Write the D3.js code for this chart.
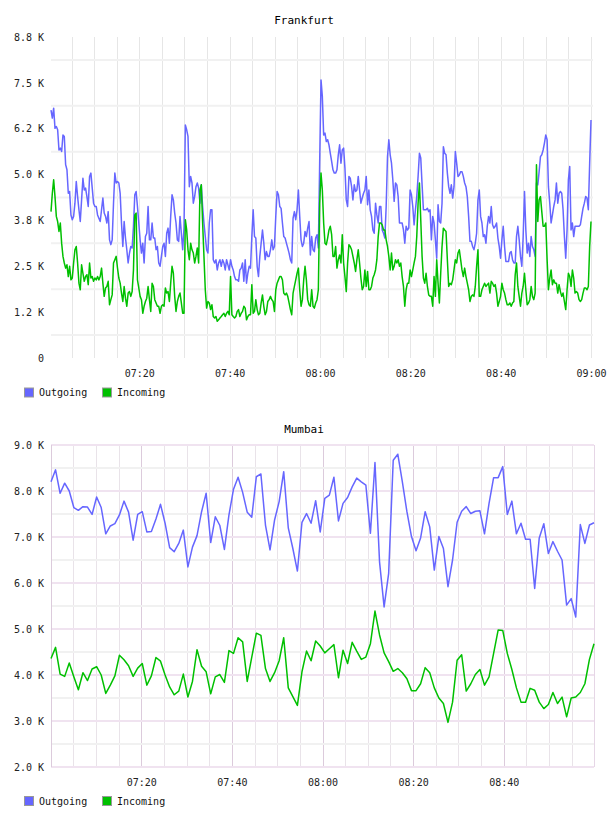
<!DOCTYPE html>
<html>
<head>
<meta charset="utf-8">
<script src="https://cdn.jsdelivr.net/npm/d3@7"></script>
<style>
body { margin: 0; background: #fff; }
svg text { font-family: "DejaVu Sans Mono", monospace; }
</style>
</head>
<body>
<div id="chart"></div>
<script>
// series names / colours shared by both panels
const seriesNames = ["Outgoing", "Incoming"];
const seriesColors = ["#6666ff", "#00c000"];
const timeLabels = ["07:20", "07:40", "08:00", "08:20", "08:40", "09:00"];

// Frankfurt - y ticks and labels
const frankfurtTicks = [0, 1250, 2500, 3750, 5000, 6250, 7500, 8750];
const frankfurtTickLabels = ["0", "1.2 K", "2.5 K", "3.8 K", "5.0 K", "6.2 K", "7.5 K", "8.8 K"];

// Frankfurt samples, 07:00:27 -> 09:00:00
const frankfurtOutgoing = [
  6760, 6540, 6810, 6260, 6310, 6220, 5670, 5720, 5630, 6080,
  6040, 5270, 5130, 4490, 4540, 3900, 3770, 3860, 4220, 4810,
  4400, 4040, 3720, 4310, 4900, 4580, 4630, 4400, 4130, 4950,
  5040, 4630, 4220, 4130, 4130, 3900, 3810, 3720, 4040, 4360,
  3950, 3860, 3680, 3990, 3220, 3090, 3220, 4220, 5040, 4770,
  4810, 4770, 4490, 3680, 3040, 3720, 3270, 2950, 2590, 2860,
  3040, 3000, 3590, 4450, 4540, 4130, 3680, 3220, 2860, 3130,
  2590, 3310, 3400, 4130, 3220, 3220, 3680, 3270, 3270, 2950,
  3040, 2590, 2500, 2770, 3040, 3130, 2770, 3400, 3540, 3130,
  3860, 4450, 4310, 3950, 3680, 3220, 3180, 3860, 3400, 2950,
  3540, 6350, 6220, 6040, 4670, 4950, 4770, 4220, 4400, 4670,
  4770, 4630, 4220, 4720, 4130, 3680, 3310, 2950, 2860, 3680,
  4040, 4040, 2680, 2590, 2680, 2400, 2590, 2680, 2500, 2680,
  2590, 2400, 2680, 2540, 2400, 2680, 2500, 2400, 2220, 2130,
  2130, 2090, 2400, 2450, 2590, 2090, 2680, 2040, 2310, 2500,
  2450, 3310, 4040, 3310, 3270, 2500, 2220, 2770, 3130, 3490,
  3130, 2680, 2900, 2770, 2770, 2950, 3220, 2950, 3040, 3860,
  4540, 4450, 4130, 4080, 3680, 3310, 3270, 3130, 3000, 2860,
  2680, 2590, 3810, 3990, 3770, 4040, 4580, 3860, 3220, 3040,
  3130, 3450, 3310, 3540, 3720, 2810, 3310, 2950, 2900, 3270,
  3360, 3000,
  5310, 7580, 7130, 6080, 6130, 5900, 5950, 5810, 5580, 5360,
  5130, 5040, 5040, 5130, 5540, 5810, 5310, 5670, 5720, 5170,
  4310, 4130, 4950, 4900, 4670, 4310, 4720, 4540, 4580, 4950,
  4580, 4220, 4360, 4490, 4580, 4950, 4180, 4580, 4040, 3860,
  3490, 3400, 4220, 3900, 3680, 4130, 4130, 3490, 3400, 3270,
  4130, 5490, 5950, 5540, 5310, 4860, 4270, 4770, 4720, 4400,
  3680, 3680, 3680, 3490, 3130, 3590, 3490, 3540, 4580, 4450,
  4130, 3630, 4040, 4400, 4950, 5580, 5450, 4720, 4040, 4040,
  4040, 4080, 3990, 4040, 3220, 3860, 3680, 3220, 2720, 4180,
  3720, 3680, 4220, 5760, 5580, 5540, 5040, 4670, 4490, 4720,
  4360, 4670, 5630, 5310, 4950, 4990, 5080, 5080, 4950, 4770,
  4670, 4400, 3860, 3180, 3180, 3040, 2950, 3130, 3400, 4310,
  4580, 3860, 3680, 3310, 3360, 3130, 3590, 3860, 3680, 4130,
  3630, 3540, 3590, 3680, 3270, 3040, 2720, 3220, 3590, 3040,
  2630, 2630, 2630, 2860, 2900, 2680, 2590, 2590, 3310, 3590,
  3220, 2770, 2500, 3310, 4540, 3490, 2860, 3130, 2770, 3310,
  3040, 2950, 2770, 4770, 4720, 5080, 5490, 5540, 5670, 5860,
  6080, 5950, 4670, 4220, 3680, 3900, 4130, 4310, 4770, 4220,
  4490, 4540, 4490, 4040, 3310, 2720, 3490, 4860, 5220, 3490,
  3680, 3310, 3590, 3590, 3590, 3590, 3630, 3860, 4080, 4220,
  4400, 4360, 4040, 5310, 6490
];

const frankfurtIncoming = [
  3990, 4490, 4860, 4400, 3860, 3720, 3450, 3680, 3130, 2770,
  2590, 2450, 2540, 2220, 2500, 2130, 2180, 2590, 2950, 3040,
  2590, 2040, 1860, 2540, 2310, 2090, 2220, 2270, 2000, 2590,
  2180, 2220, 2090, 2180, 2130, 2220, 2130, 2220, 2450, 2040,
  1680, 1910, 1950, 2090, 1450, 1590, 1720, 2590, 2680, 2770,
  2450, 2180, 2040, 1770, 1540, 1950, 1630, 1410, 1770, 1810,
  1680, 1810, 2400, 3900, 3950, 2130, 1910, 1680, 1590, 1220,
  1410, 1540, 1630, 1950, 1590, 1270, 2040, 1950, 1590, 1500,
  1410, 1410, 1220, 1410, 1450, 1410, 1910, 1770, 1810, 1540,
  2040, 2500, 2310, 1680, 1270, 1540, 1680, 1770, 1500, 1220,
  1220, 3770, 3490, 2950, 2680, 3130, 2950, 2860, 2590, 2770,
  3000, 2590, 4580, 4720, 3680, 2770, 1860, 1360, 1540, 1500,
  1320, 1450, 1130, 1090, 1130, 1000, 1040, 1090, 1130, 1180,
  1220, 1130, 1220, 1270, 1180, 2220, 1180, 1130, 1090, 1130,
  1270, 1320, 1130, 1220, 1270, 1410, 1360, 1040, 1130, 1180,
  1180, 2000, 1220, 1270, 1590, 1320, 1180, 1220, 1500, 1720,
  1410, 1180, 1270, 1540, 1590, 1680, 1590, 1540, 1270, 1860,
  2040, 2130, 2220, 2220, 2130, 1770, 1720, 1770, 1680, 1500,
  1320, 1180, 1770, 1950, 2130, 2310, 2450, 1860, 1410, 1590,
  2130, 2500, 2130, 1590, 1450, 1410, 1860, 1410, 1360, 1500,
  1590, 1860,
  4220, 5040, 4580, 3680, 3130, 3090, 3270, 3490, 3590, 3360,
  2770, 2770, 3040, 2450, 2680, 2810, 2590, 3360, 2590, 2220,
  1810, 2590, 3090, 3040, 2950, 2770, 2590, 2360, 2680, 2950,
  2590, 2180, 1860, 1950, 2400, 1950, 2360, 1860, 1860, 1950,
  2180, 2270, 2400, 2680, 3310, 3680, 3680, 3630, 3490, 3490,
  3220, 3040, 2770, 2400, 2860, 2400, 2500, 2680, 2590, 2680,
  2500, 2590, 2220, 1950, 1410, 1860, 2040, 2040, 2400, 2220,
  2400, 2590, 2770, 3310, 4220, 4770, 3770, 2770, 2180, 2040,
  2310, 1950, 1720, 1680, 1680, 1410, 2220, 1680, 2680, 2040,
  1500, 2310, 3040, 3540, 3490, 3450, 2680, 1950, 2040, 2000,
  2130, 2400, 2680, 2590, 2860, 2950, 2680, 2400, 2220, 2450,
  2220, 2040, 1860, 1540, 1680, 1720, 1680, 1950, 2500, 2950,
  1680, 1680, 1860, 1950, 2040, 1950, 2000, 2040, 1770, 2090,
  2040, 1950, 2000, 1770, 1410, 1540, 1680, 2040, 1860, 1770,
  1590, 1450, 1450, 1500, 1410, 1500, 1540, 2270, 2590, 1950,
  1680, 1410, 1770, 1950, 2310, 1860, 1450, 1500, 1590, 1950,
  1680, 1590, 1770, 5270, 3720, 4310, 4400, 3990, 3590, 3590,
  3680, 2680, 1860, 2180, 2400, 2000, 2130, 2040, 2040, 1770,
  2000, 1810, 1680, 1770, 1540, 1320, 1860, 2310, 2220, 1950,
  2400, 2180, 1770, 1810, 1770, 1590, 1540, 1590, 1770, 1910,
  1910, 1860, 1950, 3040, 3720
];

// Mumbai - y ticks and labels
const mumbaiTicks = [2000, 3000, 4000, 5000, 6000, 7000, 8000, 9000];
const mumbaiTickLabels = ["2.0 K", "3.0 K", "4.0 K", "5.0 K", "6.0 K", "7.0 K", "8.0 K", "9.0 K"];

// Mumbai samples, one a minute
const mumbaiOutgoing = [
  8200, 8460, 7950, 8170, 8000, 7640, 7580, 7660, 7650, 7490,
  7870, 7640, 7070, 7240, 7290, 7480, 7780, 7540, 6930, 7490,
  7550, 7110, 7120, 7390, 7710, 7300, 6770, 6680, 6860, 7150,
  6350, 6780, 7030, 7550, 7950, 6880, 7440, 7250, 6730, 7480,
  8040, 8300, 7970, 7540, 7430, 8310, 8370, 7260, 6720, 7370,
  7770, 8420, 7200, 6750, 6260, 7320, 7510, 7300, 7790, 7110,
  7840, 7910, 8300, 7350, 7730, 7860, 8090, 8280, 8200, 8130,
  7080, 8620, 6460, 5480, 6210, 8670, 8800, 8200, 7550, 7010,
  6700, 6980, 7550, 7220, 6280, 7010, 6750, 5920, 6500, 7320,
  7560, 7660, 7510, 7560, 7570, 7070, 7730, 8290, 8290, 8530,
  7490, 7780, 7070, 7300, 6950, 6950, 5880, 6980, 7290, 6640,
  6900, 6690, 6500, 5520, 5660, 5260, 7270, 6860, 7260, 7310
];

const mumbaiIncoming = [
  4360, 4600, 4020, 3970, 4260, 3960, 3680, 4050, 3880, 4130,
  4180, 4000, 3600, 3780, 3980, 4430, 4330, 4200, 3970, 4150,
  4250, 3780, 3980, 4380, 4300, 4000, 3740, 3570, 3650, 4020,
  3520, 3860, 4550, 4190, 4070, 3590, 3960, 4010, 3840, 4530,
  4470, 4810, 4720, 3860, 4390, 4910, 4860, 4140, 3860, 4050,
  4310, 4810, 3720, 3530, 3340, 4070, 4520, 4310, 4740, 4630,
  4480, 4570, 4660, 3940, 4540, 4250, 4710, 4520, 4340, 4390,
  4680, 5390, 4870, 4480, 4290, 4080, 4140, 4050, 3920, 3660,
  3660, 3810, 4160, 4050, 3720, 3500, 3380, 2970, 3410, 4320,
  4440, 3650, 3810, 4010, 4120, 3780, 3960, 4470, 4980, 4970,
  4470, 4120, 3720, 3410, 3410, 3710, 3670, 3410, 3270, 3360,
  3620, 3380, 3520, 3090, 3500, 3520, 3620, 3810, 4340, 4680
];

const width = 608;
const height = 816;

const at = (h, m, s) => new Date(2015, 0, 1, h, m, s || 0);
const parseLabel = d => { const p = d.split(":"); return at(+p[0], +p[1]); };

// spread samples evenly between first and last timestamp
function sampleTimes(n, start, end) {
    return d3.range(n).map(i => new Date(+start + i * (end - start) / (n - 1)));
}

const svg = d3.select("#chart")
    .append("svg")
    .attr("width", width)
    .attr("height", height);

function drawPanel(p) {
    const g = svg.append("g");

    const x = d3.scaleTime().domain(p.xDomain).range([p.left, p.right]);
    const y = d3.scaleLinear().domain(p.yDomain).range([p.bottom, p.top]);

    // vertical grid every 5 minutes
    const minutes = x.ticks(d3.timeMinute.every(5));
    g.append("g").selectAll("line")
        .data(minutes)
        .enter()
        .append("line")
        .attr("x1", d => Math.round(x(d)) + 0.5)
        .attr("x2", d => Math.round(x(d)) + 0.5)
        .attr("y1", p.top)
        .attr("y2", p.bottom)
        .attr("stroke", d => p.tinted && d.getMinutes() % 20 === 0 ? "#dccbdc" : (p.tinted ? "#e9e3e9" : "#e6e6e6"))
        .attr("stroke-width", 1);

    // horizontal grid
    g.append("g").selectAll("line")
        .data(p.hLines)
        .enter()
        .append("line")
        .attr("x1", p.left)
        .attr("x2", p.gridRight)
        .attr("y1", d => y(d))
        .attr("y2", d => y(d))
        .attr("stroke", d => p.tinted && d % 1000 === 0 ? "#f0e3f0" : "#f1f1f1")
        .attr("stroke-width", 2);

    if (p.tinted) {
        // plot frame
        g.append("line")
            .attr("x1", p.left + 0.5).attr("x2", p.left + 0.5)
            .attr("y1", p.top).attr("y2", p.bottom)
            .attr("stroke", "#dccbdc");
        g.append("line")
            .attr("x1", p.right + 0.5).attr("x2", p.right + 0.5)
            .attr("y1", p.top).attr("y2", p.bottom)
            .attr("stroke", "#e6d6e6");
    }

    // y axis labels
    const yAxis = g.append("g")
        .attr("transform", `translate(${p.left}, 0)`)
        .call(d3.axisLeft(y)
            .tickValues(p.yTicks)
            .tickFormat((d, i) => p.yTickLabels[i])
            .tickSize(0)
            .tickPadding(7));
    yAxis.select(".domain").remove();
    yAxis.selectAll("text")
        .attr("font-family", "DejaVu Sans Mono, monospace")
        .attr("font-size", 10)
        .attr("fill", "#222");

    // x axis labels
    const labelDates = timeLabels.map(parseLabel)
        .filter(d => d >= p.xDomain[0] && d <= p.xDomain[1]);
    const xAxis = g.append("g")
        .attr("transform", `translate(0, ${p.bottom})`)
        .call(d3.axisBottom(x)
            .tickValues(labelDates)
            .tickFormat(d3.timeFormat("%H:%M"))
            .tickSize(0)
            .tickPadding(12));
    xAxis.select(".domain").remove();
    xAxis.selectAll("text")
        .attr("font-family", "DejaVu Sans Mono, monospace")
        .attr("font-size", 10)
        .attr("fill", "#222");

    // the two series
    const times = sampleTimes(p.series[0].length, p.firstTime, p.lastTime);
    const line = d3.line()
        .x((d, i) => x(times[i]))
        .y(d => y(d));

    p.series.forEach((values, k) => {
        g.append("path")
            .datum(values)
            .attr("d", line)
            .attr("fill", "none")
            .attr("stroke", seriesColors[k])
            .attr("stroke-width", 1.5)
            .attr("stroke-linejoin", "round");
    });

    // title
    g.append("text")
        .attr("x", width / 2)
        .attr("y", p.titleY)
        .attr("text-anchor", "middle")
        .attr("font-size", 11)
        .attr("fill", "#000")
        .text(p.title);

    // legend
    const legendX = [24, 102];
    const legend = g.append("g").selectAll("g")
        .data(seriesNames)
        .enter()
        .append("g")
        .attr("transform", (d, i) => `translate(${legendX[i]}, ${p.legendY})`);
    legend.append("rect")
        .attr("x", 0.5)
        .attr("y", 0.5)
        .attr("width", 9)
        .attr("height", 9)
        .attr("fill", (d, i) => seriesColors[i])
        .attr("stroke", "#999");
    legend.append("text")
        .attr("x", 15)
        .attr("y", 8.5)
        .attr("font-size", 10)
        .attr("fill", "#111")
        .text(d => d);
}

drawPanel({
    title: "Frankfurt",
    titleY: 24,
    left: 51,
    right: 591,
    gridRight: 593,
    top: 37,
    bottom: 358,
    xDomain: [at(7, 0, 27), at(9, 0, 0)],
    firstTime: at(7, 0, 27),
    lastTime: at(9, 0, 0),
    yDomain: [0, 8750],
    yTicks: frankfurtTicks,
    yTickLabels: frankfurtTickLabels,
    hLines: d3.range(625, 8750, 1250),
    tinted: false,
    series: [frankfurtOutgoing, frankfurtIncoming],
    legendY: 387.5
});

drawPanel({
    title: "Mumbai",
    titleY: 433,
    left: 51,
    right: 594,
    gridRight: 594,
    top: 445,
    bottom: 767,
    xDomain: [at(7, 0, 5), at(8, 59, 55)],
    firstTime: at(7, 0, 5),
    lastTime: at(8, 59, 55),
    yDomain: [2000, 9000],
    yTicks: mumbaiTicks,
    yTickLabels: mumbaiTickLabels,
    hLines: d3.range(2000, 9001, 500),
    tinted: true,
    series: [mumbaiOutgoing, mumbaiIncoming],
    legendY: 796
});
</script>
</body>
</html>
